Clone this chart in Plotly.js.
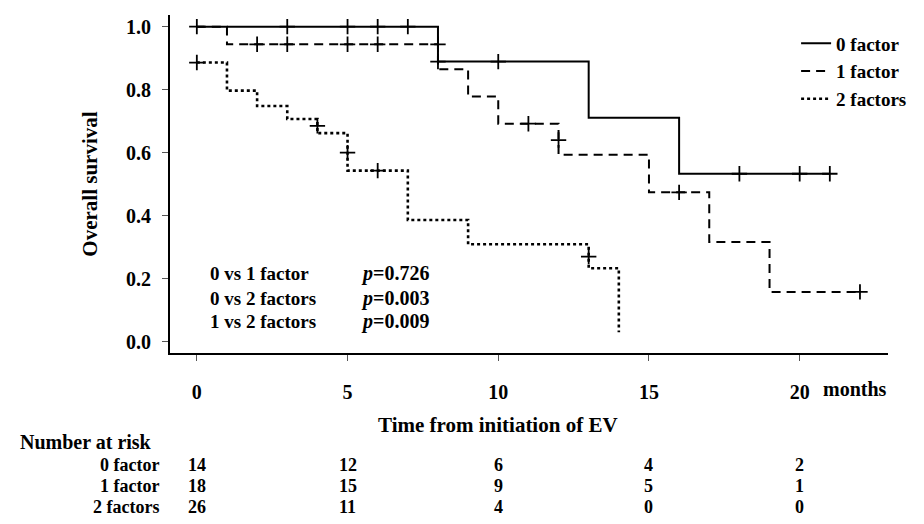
<!DOCTYPE html>
<html>
<head>
<meta charset="utf-8">
<script src="https://cdn.plot.ly/plotly-3.0.1.min.js"></script>
<style>html,body{margin:0;padding:0;background:#fff;}#chart{width:924px;height:524px;}</style>
</head>
<body>
<div id="chart"></div>
<script>
// Kaplan-Meier step data (time in months, survival)
const groupNames = ["0 factor", "1 factor", "2 factors"];
const t0 = [0, 8, 13, 16, 21];
const s0 = [1.0, 0.889, 0.711, 0.533, 0.533];
const t1 = [0, 1, 8, 9, 10, 12, 15, 17, 19, 22];
const s1 = [1.0, 0.944, 0.865, 0.778, 0.692, 0.593, 0.474, 0.316, 0.158, 0.158];
const t2 = [0, 1, 2, 3, 4, 5, 7, 9, 13, 14];
const s2 = [0.886, 0.797, 0.748, 0.707, 0.662, 0.543, 0.386, 0.309, 0.233, 0.03];
// censoring marks
const c0t = [0, 3, 5, 6, 7, 8, 10, 18, 20, 21];
const c0s = [1, 1, 1, 1, 1, 0.889, 0.889, 0.533, 0.533, 0.533];
const c1t = [2, 3, 5, 6, 8, 11, 12, 16, 22];
const c1s = [0.944, 0.944, 0.944, 0.944, 0.944, 0.692, 0.64, 0.474, 0.158];
const c2t = [0, 4, 5, 6, 13];
const c2s = [0.886, 0.685, 0.60, 0.543, 0.27];
// number at risk
const riskTimes = [0, 5, 10, 15, 20];
const risk0 = [14, 12, 6, 4, 2];
const risk1 = [18, 15, 9, 5, 1];
const risk2 = [26, 11, 4, 0, 0];
// tick labels
const xTicks = [0, 5, 10, 15, 20];
const yTicks = [0, 0.2, 0.4, 0.6, 0.8, 1.0];
// comparisons
const compLabels = ["0 vs 1 factor", "0 vs 2 factors", "1 vs 2 factors"];
const compP = ["0.726", "0.003", "0.009"];

const FONT = "Liberation Serif, Times New Roman, serif";
const dashes = ["solid", "9px,6px", "3px,3px"];
const widths = [2, 2, 2.6];
const T = [t0, t1, t2], S = [s0, s1, s2];
const CT = [c0t, c1t, c2t], CS = [c0s, c1s, c2s];

const traces = [];
for (let i = 0; i < 3; i++) {
  traces.push({
    x: T[i], y: S[i], type: "scatter", mode: "lines", name: "<b>" + groupNames[i] + "</b>",
    line: {shape: "hv", color: "#000", width: widths[i], dash: dashes[i]},
    legendgroup: "g" + i, showlegend: true, hoverinfo: "skip"
  });
}
for (let i = 0; i < 3; i++) {
  traces.push({
    x: CT[i], y: CS[i], type: "scatter", mode: "markers", showlegend: false,
    marker: {symbol: "cross-thin", size: 11, color: "#000", line: {color: "#000", width: 1.8}},
    hoverinfo: "skip"
  });
}

const ann = [];
const paperY = (py) => 1 - (py - 15) / 338;
const paperX = (px) => (px - 170) / 723;
const f = (s) => ({family: FONT, size: s, color: "#000"});

ann.push({x: 21.83, y: paperY(389), xref: "x", yref: "paper", text: "<b>months</b>", showarrow: false, xanchor: "center", yanchor: "middle", font: f(20)});
ann.push({x: 10, y: paperY(425), xref: "x", yref: "paper", text: "<b>Time from initiation of EV</b>", showarrow: false, xanchor: "center", yanchor: "middle", font: f(21)});
ann.push({x: paperX(18), y: paperY(442), xref: "paper", yref: "paper", text: "<b>Number at risk</b>", showarrow: false, xanchor: "left", yanchor: "middle", font: f(20), borderpad: 0});
const riskRows = [risk0, risk1, risk2];
const rowY = [465, 486, 507];
for (let r = 0; r < 3; r++) {
  ann.push({x: paperX(160), y: paperY(rowY[r]), xref: "paper", yref: "paper", text: "<b>" + groupNames[r] + "</b>", showarrow: false, xanchor: "right", yanchor: "middle", font: f(18), borderpad: 0});
  for (let k = 0; k < riskTimes.length; k++) {
    ann.push({x: riskTimes[k], y: paperY(rowY[r]), xref: "x", yref: "paper", text: "<b>" + riskRows[r][k] + "</b>", showarrow: false, xanchor: "center", yanchor: "middle", font: f(18), borderpad: 0});
  }
}
const compY = [0.215, 0.138, 0.064];
for (let r = 0; r < 3; r++) {
  ann.push({x: 0.36, y: compY[r], xref: "x", yref: "y", text: "<b>" + compLabels[r] + "</b>", showarrow: false, xanchor: "left", yanchor: "middle", font: f(19)});
  ann.push({x: 5.37, y: compY[r], xref: "x", yref: "y", text: "<b><i>p</i>=" + compP[r] + "</b>", showarrow: false, xanchor: "left", yanchor: "middle", font: f(20)});
}

const layout = {
  width: 924, height: 524,
  margin: {l: 170, r: 31, t: 15, b: 171},
  paper_bgcolor: "#fff", plot_bgcolor: "#fff",
  font: {family: FONT, size: 20, color: "#000"},
  showlegend: true,
  legend: {x: 0.872, y: 0.972, xanchor: "left", yanchor: "top", bgcolor: "rgba(0,0,0,0)",
    font: {family: FONT, size: 19, color: "#000"}, tracegroupgap: 0, itemwidth: 30},
  xaxis: {
    range: [-0.89, 22.93], showgrid: false, zeroline: false, showline: true, linecolor: "#000", linewidth: 2,
    tickmode: "array", tickvals: xTicks, ticktext: xTicks.map(v => "<b>" + v + "</b>"),
    ticks: "outside", ticklen: 6, tickwidth: 1, tickcolor: "#555", ticklabelstandoff: 14,
    tickfont: {family: FONT, size: 20, color: "#000"}, fixedrange: true
  },
  yaxis: {
    range: [-0.036, 1.037], showgrid: false, zeroline: false, showline: true, linecolor: "#000", linewidth: 2,
    tickmode: "array", tickvals: yTicks, ticktext: yTicks.map(v => "<b>" + v.toFixed(1) + "</b>"),
    ticks: "outside", ticklen: 6, tickwidth: 1, tickcolor: "#555", ticklabelstandoff: 7,
    tickfont: {family: FONT, size: 20, color: "#000"},
    title: {text: "<b>Overall survival</b>", font: {family: FONT, size: 21, color: "#000"}, standoff: 23},
    fixedrange: true
  },
  annotations: ann
};

Plotly.newPlot("chart", traces, layout, {displayModeBar: false, staticPlot: true});
</script>
</body>
</html>
